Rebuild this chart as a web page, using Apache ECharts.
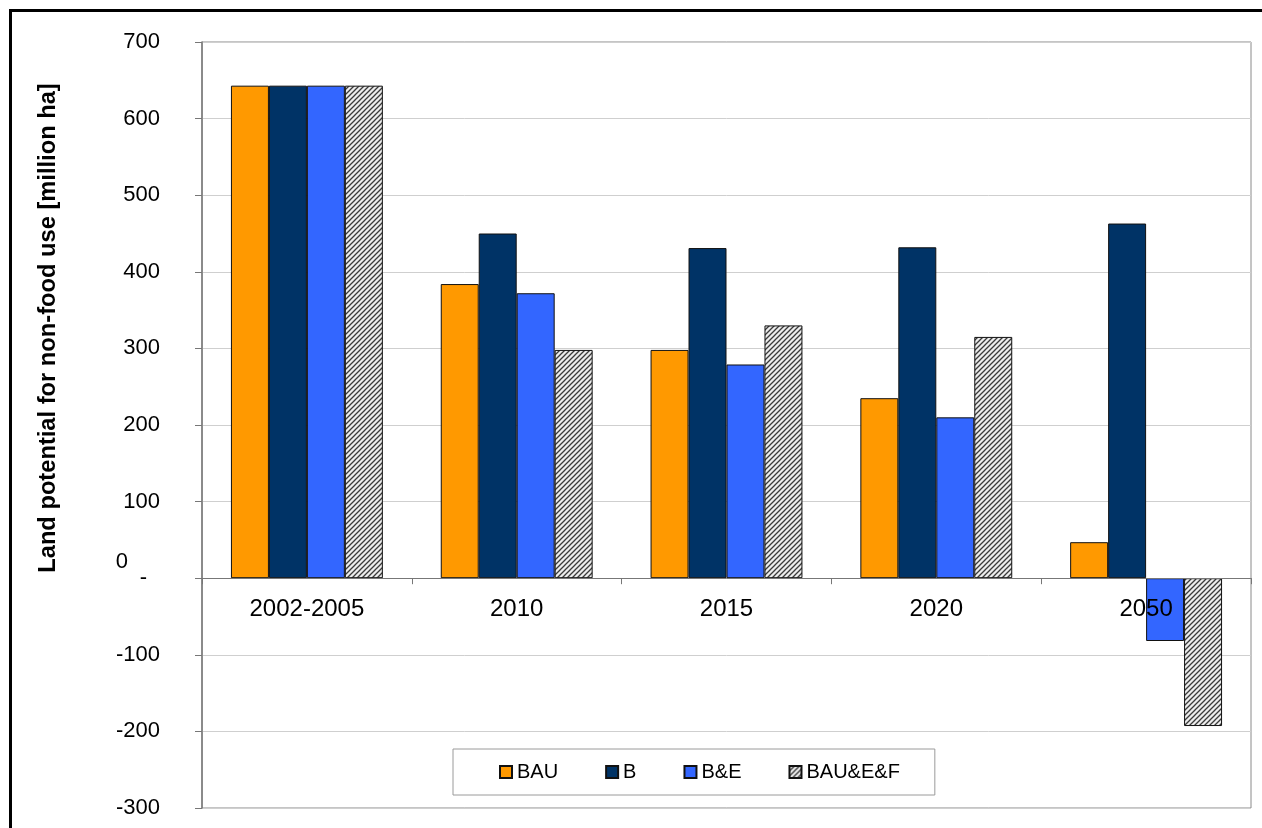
<!DOCTYPE html>
<html>
<head>
<meta charset="utf-8">
<script src="https://cdn.jsdelivr.net/npm/echarts@6/dist/echarts.min.js"></script>
<style>
html,body{margin:0;padding:0;background:#fff;}
#frame{position:absolute;left:9px;top:9px;width:1253px;height:819px;border-left:3px solid #000;border-top:3px solid #000;box-sizing:border-box;pointer-events:none;z-index:2;}
#chart{position:absolute;left:0;top:0;width:1262px;height:828px;}
</style>
</head>
<body>
<div id="chart"></div>
<div id="frame"></div>
<script>
const categories = ['2002-2005', '2010', '2015', '2020', '2050'];
const seriesNames = ['BAU', 'B', 'B&E', 'BAU&E&F'];
const bau = [643, 384, 298, 235, 47];
const b = [643, 450, 431, 432, 463];
const bAndE = [643, 372, 279, 210, -82];
const bauEF = [643, 298, 330, 315, -193];
const yTicks = [-300, -200, -100, 0, 100, 200, 300, 400, 500, 600, 700];

function hatch() {
  const c = document.createElement('canvas');
  c.width = 5; c.height = 5;
  const g = c.getContext('2d');
  g.fillStyle = '#ececec';
  g.fillRect(0, 0, 5, 5);
  g.strokeStyle = '#3a3a3a';
  g.lineWidth = 1.3;
  g.beginPath();
  g.moveTo(-1, 6); g.lineTo(6, -1);
  g.moveTo(-1, 1); g.lineTo(1, -1);
  g.moveTo(4, 6); g.lineTo(6, 4);
  g.stroke();
  return c;
}

const colors = ['#FF9900', '#003366', '#3366FF', { image: hatch(), repeat: 'repeat' }];
const values = [bau, b, bAndE, bauEF];

const chart = echarts.init(document.getElementById('chart'), null, { renderer: 'canvas' });
const font = 'Liberation Sans, Arial, sans-serif';

function buildOption(xLabelMargin) {
  return {
    animation: false,
    backgroundColor: '#fff',
    grid: { left: 202, top: 42, right: 11, bottom: 20, containLabel: false, outerBoundsMode: 'none',
      show: true, borderColor: '#8a8a8a', borderWidth: 1, backgroundColor: 'transparent' },
    legend: {
      left: 453, top: 749,
      padding: [13, 35, 13, 46],
      itemWidth: 12, itemHeight: 12, itemGap: 47,
      backgroundColor: '#fff', borderColor: '#9a9a9a', borderWidth: 1,
      textStyle: { fontFamily: font, fontSize: 20, color: '#000' },
      data: seriesNames.map(n => ({ name: n, icon: 'rect' }))
    },
    graphic: [{
      type: 'text', x: 48, y: 328, rotation: Math.PI / 2,
      style: { text: 'Land potential for non-food use [million ha]', fontFamily: font, fontWeight: 'bold', fontSize: 23.7,
        fill: '#000', align: 'center', verticalAlign: 'middle' }
    }],
    xAxis: {
      type: 'category', data: categories, z: 10,
      axisLine: { onZero: true, lineStyle: { color: '#777', width: 1 } },
      axisTick: { show: true, length: 6, inside: false, alignWithLabel: false, lineStyle: { color: '#777' } },
      axisLabel: { fontFamily: font, fontSize: 24, color: '#000', margin: xLabelMargin },
      splitLine: { show: false }
    },
    yAxis: {
      type: 'value', min: yTicks[0], max: yTicks[yTicks.length - 1], interval: 100,
      axisLine: { show: true, lineStyle: { color: '#777', width: 1.5 } },
      axisTick: { show: true, length: 7, lineStyle: { color: '#777' } },
      splitLine: { lineStyle: { color: '#cfcfcf', width: 1 } },
      axisLabel: {
        fontFamily: font, fontSize: 22, color: '#000', margin: 42,
        formatter: v => v === 0 ? '{z|0}\n{d|-}\n{e| }' : String(v),
        rich: {
          z: { fontFamily: font, fontSize: 22, lineHeight: 16, align: 'right', padding: [0, 32, 0, 0] },
          d: { fontFamily: font, fontSize: 22, lineHeight: 16, align: 'right', padding: [0, 13, 0, 0] },
          e: { fontFamily: font, fontSize: 22, lineHeight: 16, align: 'right' }
        }
      }
    },
    series: seriesNames.map((name, i) => ({
      name, type: 'bar', data: values[i],
      barGap: '0%', barCategoryGap: '27.6%',
      itemStyle: { color: colors[i], borderColor: '#111', borderWidth: 1 },
      emphasis: { disabled: true }
    }))
  };
}

chart.setOption(buildOption(19));
// x labels sit at the grid bottom; pull them up to just below the zero line
const zeroY = chart.convertToPixel({ yAxisIndex: 0 }, 0);
const bottomY = chart.convertToPixel({ yAxisIndex: 0 }, yTicks[0]);
chart.setOption(buildOption(19 - (bottomY - zeroY)));
</script>
</body>
</html>
